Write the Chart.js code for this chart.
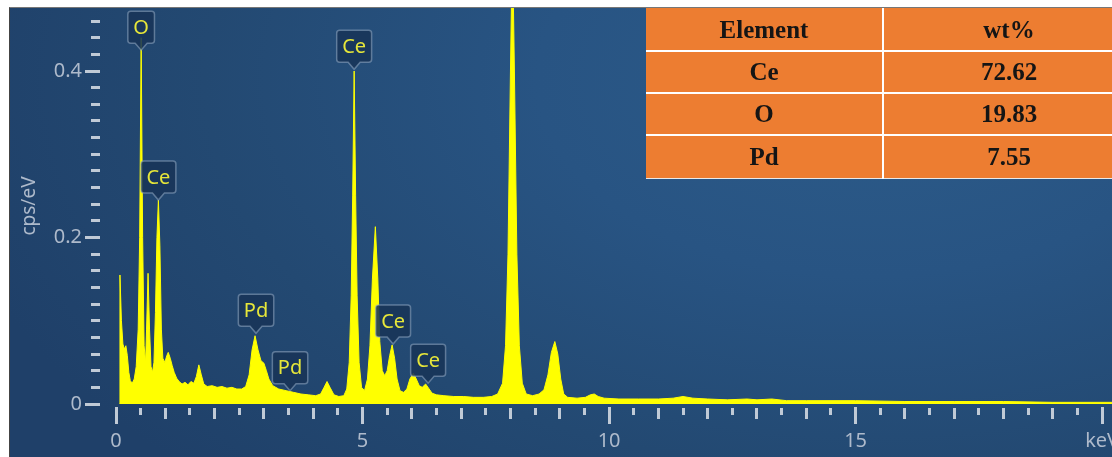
<!DOCTYPE html>
<html>
<head>
<meta charset="utf-8">
<script src="https://cdn.jsdelivr.net/npm/chart.js@4.4.1/dist/chart.umd.min.js"></script>
<style>
  html, body { margin: 0; padding: 0; background: #fff; }
  body { width: 1112px; height: 457px; position: relative; overflow: hidden; }
  #panel {
    position: absolute; left: 9px; top: 7px; width: 1103px; height: 450px;
    border-left: 1px solid #444; border-top: 1px solid #777;
    background: radial-gradient(ellipse 950px 560px at 78% 16%, #2c5b89 0%, #285483 35%, #234972 70%, #1f4069 100%);
    overflow: hidden;
  }
  #spectrum { position: absolute; left: 0; top: 0; }
  #wt {
    position: absolute; left: 636px; top: 0; width: 489px;
    border-collapse: collapse; table-layout: fixed;
    font: bold 25px "Liberation Serif", "Times New Roman", serif; color: #151515;
  }
  #wt th, #wt td {
    background: #ed7d31; text-align: center; padding: 0;
    border-right: 2px solid #fff; border-bottom: 2px solid #fff;
    height: 40px;
  }
  #wt th { height: 40px; padding-top: 2px; }
  #wt tr:last-child td { border-bottom: 1px solid #e9e9e9; height: 42px; }
</style>
</head>
<body>
<div id="panel">
  <canvas id="spectrum" width="1102" height="449"></canvas>
  <table id="wt">
    <colgroup><col style="width:237px"><col style="width:252px"></colgroup>
    <thead><tr id="wtHead"></tr></thead>
    <tbody id="wtBody"></tbody>
  </table>
</div>
<script>
// spectrum, energy in keV and intensity in cps/eV
const energy = [
  0.07, 0.08, 0.11, 0.14, 0.17, 0.20, 0.23, 0.26, 0.29, 0.33, 0.37, 0.41, 0.45, 0.48, 0.51, 0.54, 0.57,
  0.60, 0.62, 0.65, 0.68, 0.71, 0.74, 0.77, 0.80, 0.83, 0.86, 0.89, 0.92, 0.95, 0.99,
  1.03, 1.06, 1.10, 1.14, 1.18, 1.23, 1.28, 1.34, 1.40, 1.46, 1.52, 1.58, 1.63, 1.68, 1.73, 1.78, 1.85, 1.95,
  2.05, 2.15, 2.25, 2.35, 2.45, 2.55, 2.63, 2.70, 2.76, 2.82, 2.88, 2.94, 3.00, 3.05, 3.10, 3.18, 3.30, 3.45,
  3.60, 3.75, 3.90, 4.05, 4.15, 4.22, 4.28, 4.34, 4.42, 4.52, 4.62, 4.68, 4.73, 4.77, 4.80, 4.83, 4.86, 4.89,
  4.93, 4.98, 5.04, 5.10, 5.15, 5.20, 5.26, 5.31, 5.35, 5.40, 5.45, 5.50, 5.55, 5.60, 5.65, 5.70, 5.76, 5.83,
  5.90, 5.96, 6.03, 6.09, 6.15, 6.21, 6.28, 6.34, 6.41, 6.50, 6.65, 6.85, 7.05, 7.25, 7.45, 7.62, 7.74, 7.84,
  7.90, 7.95, 8.00, 8.04, 8.08, 8.13, 8.18, 8.24, 8.32, 8.45, 8.58, 8.68, 8.76, 8.83, 8.90, 8.96, 9.02, 9.08,
  9.16, 9.35, 9.52, 9.62, 9.70, 9.78, 9.90, 10.2, 10.6, 11.0, 11.3, 11.5, 11.7, 12.0, 12.4, 12.8, 13.0, 13.3,
  13.6, 14.0, 15.0, 16.0, 17.0, 18.0, 19.0, 20.3
];
const counts = [
  0.0, 0.155, 0.100, 0.072, 0.066, 0.070, 0.058, 0.038, 0.028, 0.025, 0.030, 0.045, 0.090, 0.200, 0.440, 0.200, 0.070,
  0.050, 0.090, 0.157, 0.090, 0.045, 0.038, 0.050, 0.110, 0.200, 0.245, 0.190, 0.090, 0.055, 0.050,
  0.058, 0.062, 0.055, 0.046, 0.038, 0.031, 0.027, 0.024, 0.026, 0.023, 0.027, 0.025, 0.033, 0.047, 0.035, 0.024, 0.021, 0.022,
  0.020, 0.021, 0.019, 0.020, 0.018, 0.018, 0.021, 0.035, 0.065, 0.082, 0.065, 0.052, 0.049, 0.040, 0.030, 0.022, 0.018, 0.016,
  0.014, 0.012, 0.011, 0.010, 0.012, 0.020, 0.027, 0.020, 0.011, 0.009, 0.010, 0.018, 0.050, 0.130, 0.250, 0.400, 0.250, 0.130,
  0.050, 0.020, 0.016, 0.030, 0.070, 0.150, 0.213, 0.150, 0.075, 0.040, 0.034, 0.040, 0.058, 0.071, 0.055, 0.030, 0.016, 0.014,
  0.018, 0.030, 0.037, 0.030, 0.022, 0.020, 0.024, 0.019, 0.013, 0.011, 0.010, 0.009, 0.009, 0.008, 0.008, 0.009, 0.012, 0.025,
  0.070, 0.180, 0.400, 0.560, 0.400, 0.180, 0.070, 0.025, 0.012, 0.010, 0.012, 0.017, 0.035, 0.062, 0.075, 0.060, 0.030, 0.012,
  0.008, 0.007, 0.008, 0.011, 0.012, 0.009, 0.007, 0.006, 0.006, 0.006, 0.007, 0.009, 0.007, 0.006, 0.005, 0.006, 0.005, 0.006,
  0.004, 0.004, 0.004, 0.003, 0.003, 0.003, 0.002, 0.002
];

// element callouts: name, energy and the value where the pointer ends
const peakNames = ["O", "Ce", "Pd", "Pd", "Ce", "Ce", "Ce"];
const peakEnergy = [0.51, 0.86, 2.84, 3.53, 4.83, 5.62, 6.33];
const peakTip = [0.425, 0.245, 0.085, 0.016, 0.402, 0.072, 0.025];

// quantification table
const tableHead = ["Element", "wt%"];
const tableElements = ["Ce", "O", "Pd"];
const tableWt = ["72.62", "19.83", "7.55"];

// axis labels
const yMajorTicks = [0, 0.2, 0.4];
const xMajorTicks = [0, 5, 10, 15, 20];
const xUnitLabel = "keV";
const yTitle = "cps/eV";

const axisColor = "#aebacb";
const tickColor = "#c0cad6";

const near = (a, b) => Math.abs(a - b) < 1e-6;
const isYMajor = v => yMajorTicks.some(t => near(t, v));
const isXMajor = v => xMajorTicks.some(t => near(t, v));
const isXInt = v => near(v, Math.round(v));

document.getElementById("wtHead").innerHTML = tableHead.map(h => `<th>${h}</th>`).join("");
document.getElementById("wtBody").innerHTML = tableElements
  .map((el, i) => `<tr><td>${el}</td><td>${tableWt[i]}</td></tr>`).join("");

const peakLabels = {
  id: "peakLabels",
  afterDatasetsDraw(chart) {
    const { ctx } = chart;
    const xs = chart.scales.x, ys = chart.scales.y;
    ctx.save();
    ctx.font = '20px "Noto Sans"';
    peakNames.forEach((name, i) => {
      const px = xs.getPixelForValue(peakEnergy[i]);
      const tip = ys.getPixelForValue(peakTip[i]);
      const w = ctx.measureText(name).width + 11;
      const h = 32, r = 3;
      const bottom = tip - 7, top = bottom - h, left = px - w / 2, right = px + w / 2;
      ctx.beginPath();
      ctx.moveTo(left + r, top);
      ctx.lineTo(right - r, top);
      ctx.arcTo(right, top, right, top + r, r);
      ctx.lineTo(right, bottom - r);
      ctx.arcTo(right, bottom, right - r, bottom, r);
      ctx.lineTo(px + 6, bottom);
      ctx.lineTo(px, tip);
      ctx.lineTo(px - 6, bottom);
      ctx.lineTo(left + r, bottom);
      ctx.arcTo(left, bottom, left, bottom - r, r);
      ctx.lineTo(left, top + r);
      ctx.arcTo(left, top, left + r, top, r);
      ctx.closePath();
      ctx.fillStyle = "rgba(24,52,88,0.88)";
      ctx.fill();
      ctx.strokeStyle = "rgba(150,172,196,0.55)";
      ctx.lineWidth = 1.5;
      ctx.stroke();
      ctx.fillStyle = "#e6e63a";
      ctx.textAlign = "center";
      ctx.textBaseline = "middle";
      ctx.fillText(name, px, top + h / 2 + 1);
    });
    ctx.restore();
  }
};

new Chart(document.getElementById("spectrum"), {
  type: "line",
  data: {
    datasets: [
      {
        data: energy.map((e, i) => ({ x: e, y: counts[i] })),
        borderColor: "#ffff00",
        backgroundColor: "#ffff00",
        borderWidth: 1,
        fill: "origin",
        pointRadius: 0,
        tension: 0,
      },
    ],
  },
  options: {
    responsive: false,
    animation: false,
    layout: { padding: 0 },
    plugins: {
      legend: { display: false },
      tooltip: { enabled: false },
    },
    scales: {
      x: {
        type: "linear",
        min: 0,
        max: 20.2,
        afterFit(s) { s.height = 53; s.paddingLeft = 0; s.paddingRight = 0; },
        border: { display: false },
        grid: {
          drawOnChartArea: false,
          tickLength: 20,
          tickColor: tickColor,
          tickWidth: 3,
          tickBorderDash: c => {
            const v = c.tick.value;
            if (isXMajor(v)) return [0, 3, 18, 100];
            if (isXInt(v)) return [0, 4, 11, 100];
            return [0, 4, 7, 100];
          },
        },
        ticks: {
          stepSize: 0.5,
          autoSkip: false,
          maxRotation: 0,
          includeBounds: false,
          padding: 5,
          color: axisColor,
          font: { family: "Noto Sans", size: 20 },
          callback: v => {
            if (!isXMajor(v)) return "";
            return near(v, 20) ? xUnitLabel : String(Math.round(v));
          },
        },
      },
      y: {
        min: 0,
        max: 0.4757,
        afterFit(s) { s.width = 106; s.paddingTop = 0; s.paddingBottom = 0; },
        border: { display: false },
        grid: {
          drawOnChartArea: false,
          tickLength: 31,
          tickColor: tickColor,
          tickWidth: 3,
          tickBorderDash: c => (isYMajor(c.tick.value) ? [15, 100] : [0, 6, 9, 100]),
        },
        ticks: {
          stepSize: 0.02,
          autoSkip: false,
          includeBounds: false,
          padding: 3,
          color: axisColor,
          font: { family: "Noto Sans", size: 20 },
          callback: v => (isYMajor(v) ? String(Math.round(v * 10) / 10) : ""),
        },
        title: {
          display: true,
          text: yTitle,
          color: axisColor,
          font: { family: "Noto Sans", size: 19 },
          padding: { top: 8, bottom: 0 },
        },
      },
    },
  },
  plugins: [peakLabels],
});
</script>
</body>
</html>
